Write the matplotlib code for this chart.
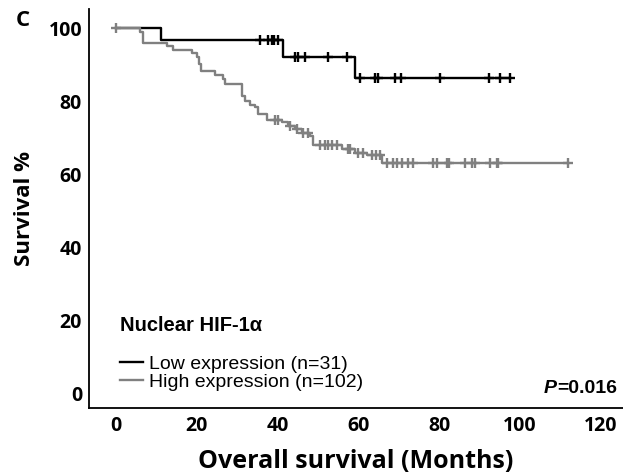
import numpy as np
import matplotlib
matplotlib.use("Agg")
import matplotlib.pyplot as plt

# Kaplan-Meier steps (months, survival %)
low_t = [0, 11.1, 41.3, 59.2]
low_s = [100, 96.8, 92.1, 86.3]
low_end = 97.5
low_cens = [35.6, 37.6, 38.6, 39.2, 40.1, 44.3, 45.0, 46.8, 52.5, 57.2,
            60.5, 64.0, 64.9, 69.0, 70.5, 80.2, 92.3, 95.0, 97.5]

high_t = [0, 6.0, 6.7, 12.6, 14.0, 18.8, 20.0, 20.5, 21.0, 24.5, 26.5, 27.0,
          31.2, 32.0, 33.2, 34.4, 35.1, 37.4, 41.0, 42.6, 44.3, 46.0, 48.0,
          48.7, 56.0, 59.2, 62.0, 65.8]
high_s = [100, 99.0, 96.1, 95.1, 94.1, 93.1, 92.1, 90.2, 88.2, 87.3, 86.0, 84.6,
          81.4, 80.0, 79.1, 78.3, 76.4, 75.0, 74.2, 73.2, 72.3, 71.4, 70.4,
          68.1, 66.8, 65.9, 65.4, 63.0]
high_end = 112.0
high_cens = [0, 39.4, 40.2, 43.0, 44.8, 46.3, 47.5, 50.5, 51.7, 52.5, 53.5, 54.7,
             57.4, 58.0, 60.0, 61.2, 63.4, 64.3, 65.3, 67.0, 68.6, 69.6, 70.8,
             72.3, 73.5, 78.5, 79.4, 82.0, 82.5, 86.4, 88.0, 88.8, 92.6, 94.3,
             94.6, 112.0]

labels = ["Low expression (n=31)", "High expression (n=102)"]
xticks = [0, 20, 40, 60, 80, 100, 120]
yticks = [0, 20, 40, 60, 80, 100]
GRAY = "#808080"


def surv_at(times, surv, t):
    idx = np.searchsorted(times, t, side="right") - 1
    return np.array(surv)[idx]


fig = plt.figure(figsize=(6.23, 4.74), dpi=100)
ax = fig.add_axes([89/623, 1 - 408/474, 534/623, 399/474])

for t, s, end, cens, col, lab in [
        (low_t, low_s, low_end, low_cens, "black", labels[0]),
        (high_t, high_s, high_end, high_cens, GRAY, labels[1])]:
    ax.step(t + [end], s + [s[-1]], where="post", color=col, lw=1.7, label=lab)
    ax.plot(cens, surv_at(t, s, cens), ls="none", marker="+", ms=7,
            mew=1.7, color=col)

ax.set_xlim(-6.7, 125.5)
ax.set_ylim(-4.1, 105.3)
ax.set_xticks(xticks)
ax.set_yticks(yticks)
ax.tick_params(length=0, labelsize=14)
ax.tick_params(axis="x", pad=6)
ax.tick_params(axis="y", pad=5)
for lbl in ax.get_xticklabels() + ax.get_yticklabels():
    lbl.set_fontfamily("Open Sans")
    lbl.set_fontweight("bold")
for sp in ["top", "right"]:
    ax.spines[sp].set_visible(False)
for sp in ["left", "bottom"]:
    ax.spines[sp].set_linewidth(1.3)

ax.set_xlabel("Overall survival (Months)", fontfamily="Open Sans",
              fontweight="bold", fontsize=18, labelpad=9)
ax.set_ylabel("Survival %", fontfamily="Open Sans", fontweight="bold",
              fontsize=16, labelpad=10)

ax.text(0.058, 0.208, "Nuclear HIF-1\u03b1", transform=ax.transAxes,
        fontfamily="Liberation Sans", fontweight="bold", fontsize=14.5,
        va="center", ha="left")
ax.legend(loc="upper left", bbox_to_anchor=(0.058, 0.133), frameon=False,
          prop={"family": "Liberation Sans", "size": 14}, borderpad=0,
          borderaxespad=0, handlelength=1.2, handletextpad=0.3,
          labelspacing=0.05)

ptxt = ax.text(0.989, 0.05, "=0.016", transform=ax.transAxes, ha="right",
               va="center", fontfamily="Liberation Sans", fontweight="bold",
               fontsize=14)
fig.canvas.draw()
bb = ptxt.get_window_extent().transformed(ax.transAxes.inverted())
ax.text(bb.x0, 0.05, "P", transform=ax.transAxes, ha="right", va="center",
        fontfamily="Liberation Sans", fontweight="bold", fontstyle="italic",
        fontsize=14)

fig.text(16/623, 1 - 20/474, "C", fontfamily="Open Sans", fontweight="bold",
         fontsize=16, va="center", ha="left")

fig.savefig("out.png", dpi=100)
